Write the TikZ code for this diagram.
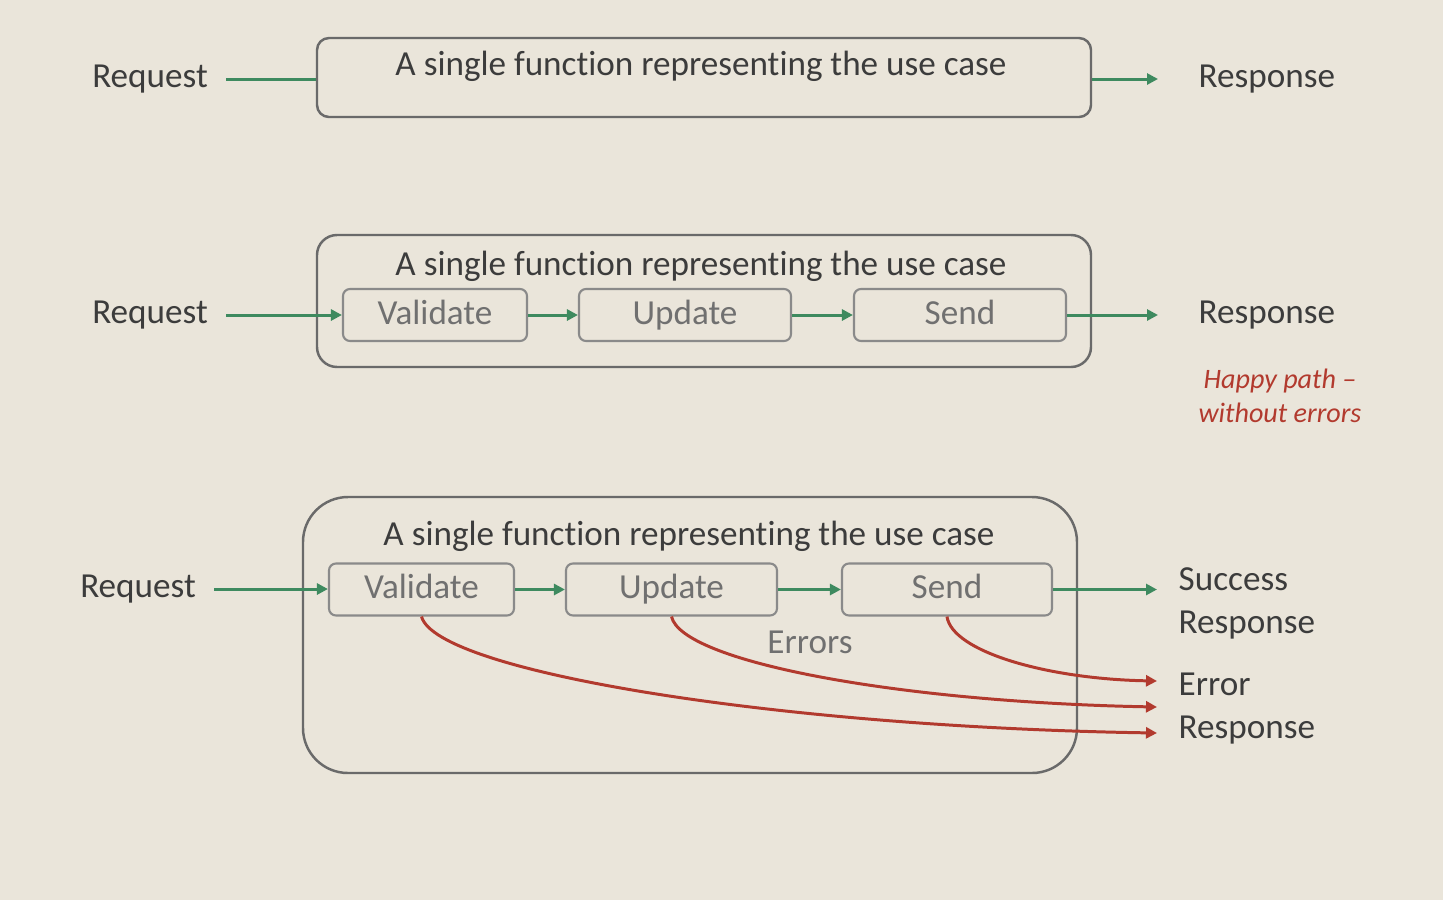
\documentclass[tikz,border=0pt]{standalone}
\usepackage{fontspec}
\setmainfont[Ligatures=NoCommon]{Carlito}
\usetikzlibrary{arrows.meta}
\definecolor{paper}{HTML}{EAE5DA}
\definecolor{ink}{HTML}{3C3C3C}
\definecolor{softink}{HTML}{707070}
\definecolor{boxgray}{HTML}{6A6A6A}
\definecolor{stagegray}{HTML}{8A8A8A}
\definecolor{okgreen}{HTML}{3E8A5F}
\definecolor{errred}{HTML}{B23A2E}
\tikzset{
    label/.style={text=ink, font=\fontsize{10}{12.2}\selectfont, inner sep=1mm},
    usecase/.style={draw=boxgray, line width=0.7pt},
    stage/.style={draw=stagegray, line width=0.6pt, rounded corners=0.07cm, minimum height=0.52cm,
        text=softink, font=\fontsize{10}{12}\selectfont, inner sep=0pt, text height=1.55ex, text depth=0.45ex},
    okflow/.style={draw=okgreen, line width=0.85pt, -{Triangle[length=1.1mm,width=1.1mm]}},
    errflow/.style={draw=errred, line width=0.85pt, -{Triangle[length=1.1mm,width=1.1mm]}}
}
\begin{document}
\begin{tikzpicture}
    \fill[paper] (0,0) rectangle (14.43,-9);
    \useasboundingbox (0,0) rectangle (14.43,-9);
    % First row: the use case as one box
    \node[usecase, rounded corners=0.12cm, minimum width=7.74cm, minimum height=0.79cm] (uc1) at (7.04,-0.775) {};
    \node[label] (title1) at (7.01,-0.66) {A single function representing the use case};
    \node[label] (req1) at (1.50,-0.79) {Request};
    \node[label, anchor=west] (resp1) at (11.88,-0.79) {Response};
    \draw[okgreen, line width=0.85pt, shorten <=0.8mm] (req1.east) -- (uc1.west |- req1.east);
    \draw[okflow, shorten >=3mm] (uc1.east |- resp1.west) -- (resp1.west);
    % Second row: the happy path
    \node[usecase, rounded corners=0.2cm, minimum width=7.74cm, minimum height=1.32cm] (uc2) at (7.04,-3.01) {};
    \node[label] (title2) at (7.01,-2.66) {A single function representing the use case};
    \node[stage, minimum width=1.84cm] (val2) at (4.35,-3.15) {Validate};
    \node[stage, minimum width=2.12cm] (upd2) at (6.85,-3.15) {Update};
    \node[stage, minimum width=2.12cm] (snd2) at (9.60,-3.15) {Send};
    \node[label] (req2) at (1.50,-3.15) {Request};
    \node[label, anchor=west] (resp2) at (11.88,-3.15) {Response};
    \draw[okflow, shorten <=0.8mm] (req2.east) -- (val2.west |- req2.east);
    \draw[okflow] (val2) -- (upd2);
    \draw[okflow] (upd2) -- (snd2);
    \draw[okflow, shorten >=3mm] (snd2.east) -- (resp2.west |- snd2.east);
    \node[text=errred, font=\fontsize{8}{9.5}\selectfont\itshape, align=center] (happy) at (12.80,-3.96) {Happy path --\\without errors};
    % Third row: success and error tracks
    \node[usecase, rounded corners=0.45cm, minimum width=7.74cm, minimum height=2.76cm] (uc3) at (6.90,-6.35) {};
    \node[label] (title3) at (6.89,-5.36) {A single function representing the use case};
    \node[stage, minimum width=1.85cm] (val3) at (4.215,-5.895) {Validate};
    \node[stage, minimum width=2.11cm] (upd3) at (6.715,-5.895) {Update};
    \node[stage, minimum width=2.10cm] (snd3) at (9.47,-5.895) {Send};
    \node[text=softink, font=\fontsize{10}{12}\selectfont] (errs) at (8.10,-6.42) {Errors};
    \node[label] (req3) at (1.38,-5.89) {Request};
    \node[label, anchor=north west, align=left] (ok3) at (11.68,-5.57) {Success\\Response};
    \node[label, anchor=north west, align=left] (err3) at (11.68,-6.62) {Error\\Response};
    \coordinate (okend) at (11.57,-5.895);
    \coordinate (e1) at (11.57,-6.81);
    \coordinate (e2) at (11.57,-7.07);
    \coordinate (e3) at (11.57,-7.33);
    \draw[okflow, shorten <=0.8mm] (req3.east) -- (val3.west |- req3.east);
    \draw[okflow] (val3) -- (upd3);
    \draw[okflow] (upd3) -- (snd3);
    \draw[okflow] (snd3.east) -- (okend);
    \draw[errflow] (snd3.south) .. controls +(0.05,-0.35) and +(-1.1,0.02) .. (e1);
    \draw[errflow] (upd3.south) .. controls +(0.1,-0.45) and +(-2.6,0.05) .. (e2);
    \draw[errflow] (val3.south) .. controls +(0.15,-0.55) and +(-3.8,0.06) .. (e3);
\end{tikzpicture}
\end{document}
